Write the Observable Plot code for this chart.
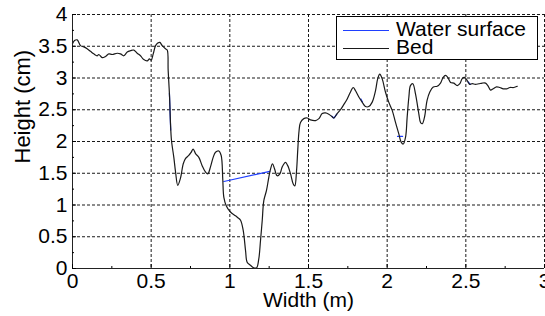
<!DOCTYPE html>
<html><head><meta charset="utf-8">
<script src="https://cdn.jsdelivr.net/npm/d3@7"></script>
<script src="https://cdn.jsdelivr.net/npm/@observablehq/plot@0.6"></script>
<style>
html,body{margin:0;padding:0;background:#fff;overflow:hidden;}
#wrap{position:relative;width:545px;height:316px;}
#legend{position:absolute;left:336px;top:16px;width:200px;height:42px;border:1px solid #000;background:#fff;font-family:"Liberation Sans",Arial,sans-serif;font-size:21px;color:#000;}
.item{position:absolute;left:0;height:18px;width:200px;}
.swatch{position:absolute;left:6px;width:46px;height:0;border-top:1px solid;}
.lab{position:absolute;left:59px;line-height:18px;white-space:nowrap;}
</style></head>
<body><div id="wrap"><div id="chart"></div><div id="legend"></div></div>
<script>
// ---- data ----
const bedX = [0,0.013,0.030,0.051,0.072,0.093,0.114,0.135,0.157,0.167,0.189,0.210,0.231,0.252,0.284,0.305,0.326,0.348,0.369,0.390,0.411,0.432,0.453,0.475,0.489,0.500,0.513,0.528,0.542,0.555,0.570,0.591,0.602,0.608,0.617,0.623,0.629,0.644,0.655,0.669,0.686,0.704,0.718,0.739,0.754,0.767,0.782,0.803,0.824,0.845,0.860,0.877,0.894,0.909,0.930,0.945,0.955,0.962,0.977,1.004,1.036,1.051,1.068,1.085,1.100,1.110,1.131,1.152,1.170,1.184,1.195,1.206,1.216,1.233,1.248,1.259,1.271,1.284,1.301,1.318,1.333,1.354,1.368,1.386,1.403,1.413,1.424,1.432,1.440,1.449,1.470,1.492,1.513,1.545,1.566,1.587,1.608,1.629,1.650,1.661,1.682,1.703,1.724,1.746,1.767,1.784,1.799,1.820,1.841,1.862,1.883,1.905,1.926,1.940,1.953,1.968,1.989,2.010,2.032,2.053,2.074,2.089,2.102,2.117,2.127,2.138,2.148,2.163,2.180,2.201,2.212,2.223,2.237,2.254,2.271,2.293,2.318,2.339,2.356,2.371,2.385,2.403,2.424,2.445,2.462,2.477,2.492,2.509,2.525,2.541,2.561,2.583,2.604,2.625,2.640,2.657,2.674,2.695,2.716,2.738,2.759,2.780,2.805,2.827];
const bedY = [3.54,3.59,3.60,3.51,3.49,3.46,3.42,3.38,3.35,3.37,3.32,3.34,3.38,3.37,3.39,3.38,3.35,3.41,3.43,3.44,3.39,3.35,3.29,3.27,3.30,3.28,3.38,3.51,3.55,3.56,3.51,3.46,3.44,3.12,2.70,2.28,2.02,1.75,1.52,1.31,1.42,1.65,1.73,1.78,1.83,1.88,1.81,1.75,1.62,1.52,1.49,1.60,1.75,1.83,1.85,1.78,1.41,1.12,0.99,0.89,0.83,0.80,0.76,0.60,0.28,0.10,0.05,0.01,0.01,0.15,0.44,0.76,1.07,1.23,1.44,1.57,1.65,1.57,1.46,1.49,1.60,1.67,1.62,1.49,1.33,1.30,1.54,1.88,2.17,2.30,2.36,2.37,2.34,2.33,2.36,2.44,2.45,2.43,2.39,2.37,2.44,2.50,2.58,2.67,2.78,2.85,2.80,2.70,2.62,2.55,2.55,2.62,2.80,2.99,3.06,2.99,2.78,2.62,2.49,2.30,2.12,1.99,1.96,2.07,2.38,2.70,2.88,2.91,2.75,2.44,2.30,2.28,2.38,2.65,2.78,2.86,2.87,2.92,3.01,3.04,3.01,2.93,2.92,2.88,2.91,2.99,3.01,2.96,2.90,2.91,2.90,2.91,2.92,2.92,2.88,2.81,2.83,2.86,2.85,2.83,2.83,2.85,2.85,2.87];
const waterSeg = [1,1,2,2,3,3,3,4,4,5,5,6,6];
const waterX = [0.616,0.624,0.962,1.254,1.648,1.661,1.680,1.833,1.843,2.066,2.098,2.513,2.530];
const waterY = [2.76,2.18,1.37,1.53,2.40,2.37,2.43,2.67,2.62,2.08,2.08,2.94,2.90];
const xTicks = [0,0.5,1,1.5,2,2.5,3];
const yTicks = [0,0.5,1,1.5,2,2.5,3,3.5,4];
const xMinor = [0.25,0.75,1.25,1.75,2.25,2.75];
const yMinor = [0.25,0.75,1.25,1.75,2.25,2.75,3.25,3.75];
const legendLabels = ["Water surface","Bed"];
const legendColors = ["#1f3fff","#1a1a1a"];
const xLabel = "Width (m)";
const yLabel = "Height (cm)";

const bed = bedX.map((x,i)=>({x, y: bedY[i]}));
const water = waterX.map((x,i)=>({x, y: waterY[i], s: waterSeg[i]}));
const font = "'Liberation Sans', Arial, sans-serif";
const fmt = d => String(d);

const chart = Plot.plot({
  width: 545, height: 316,
  marginLeft: 72, marginRight: 1, marginTop: 14, marginBottom: 48,
  style: {fontFamily: font, fontSize: "21px", color: "#000", background: "#fff", overflow: "visible"},
  x: {domain: [0,3]},
  y: {domain: [0,4]},
  marks: [
    Plot.gridX({ticks: xTicks.slice(1), stroke: "#000", strokeOpacity: 0.9, strokeDasharray: "3,2"}),
    Plot.gridY({ticks: yTicks.slice(1), stroke: "#000", strokeOpacity: 0.9, strokeDasharray: "3,2"}),
    Plot.line(water, {x: "x", y: "y", z: "s", stroke: legendColors[0], strokeWidth: 1.2}),
    Plot.line(bed, {x: "x", y: "y", stroke: legendColors[1], strokeWidth: 1.2, curve: "catmull-rom"}),
    Plot.ruleY([0], {stroke: "#222"}),
    Plot.ruleX([0], {stroke: "#222"}),
    Plot.axisX({ticks: xTicks, tickSize: 0, tickPadding: 5, fontSize: 21, tickFormat: fmt, label: null}),
    Plot.axisX({ticks: xTicks, tickSize: -4, tickFormat: () => "", label: null}),
    Plot.axisX({ticks: xMinor, tickSize: -2, tickFormat: () => "", label: null}),
    Plot.axisY({ticks: yTicks, tickSize: 0, tickPadding: 5, fontSize: 21, tickFormat: fmt, label: null}),
    Plot.axisY({ticks: yTicks, tickSize: -4, tickFormat: () => "", label: null}),
    Plot.axisY({ticks: yMinor, tickSize: -2, tickFormat: () => "", label: null}),
    Plot.text([xLabel], {frameAnchor: "bottom", dy: 38, fontSize: 21, text: d => d}),
    Plot.text([yLabel], {frameAnchor: "left", rotate: -90, dx: -50, dy: 22, fontSize: 22, text: d => d})
  ]
});
document.getElementById("chart").appendChild(chart);

const lg = document.getElementById("legend");
legendLabels.forEach((t,i)=>{
  const it = document.createElement("div");
  it.className = "item"; it.style.top = (3 + i*18) + "px";
  const sw = document.createElement("div");
  sw.className = "swatch"; sw.style.top = "10px"; sw.style.borderTopColor = legendColors[i];
  const lb = document.createElement("div");
  lb.className = "lab"; lb.textContent = t;
  it.appendChild(sw); it.appendChild(lb); lg.appendChild(it);
});
</script></body></html>
